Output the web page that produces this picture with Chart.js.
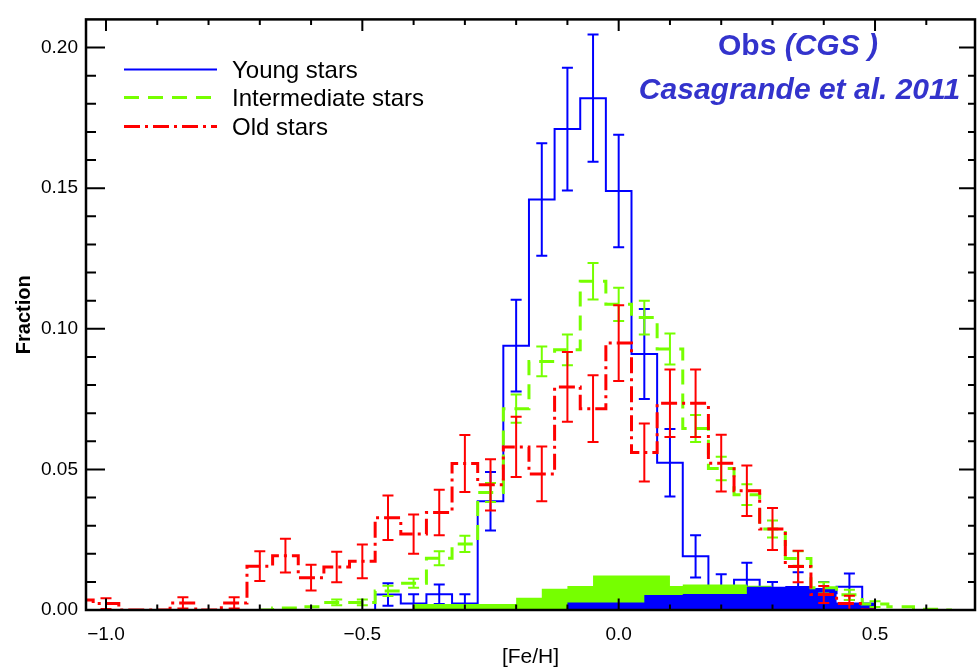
<!DOCTYPE html>
<html>
<head>
<meta charset="utf-8">
<script src="https://cdn.jsdelivr.net/npm/chart.js@4.4.1/dist/chart.umd.min.js"></script>
<style>
  html, body { margin: 0; padding: 0; background: #fff; }
  #wrap { width: 977px; height: 672px; }
</style>
</head>
<body>
<div id="wrap"><canvas id="mdf" width="977" height="672"></canvas></div>
<script>
// [Fe/H] distributions by age group, bin centres every 0.05 dex
const youngBins = [-0.50, -0.45, -0.40, -0.35, -0.30, -0.25, -0.20, -0.15, -0.10, -0.05, 0.00,
  0.05, 0.10, 0.15, 0.20, 0.25, 0.30, 0.35, 0.40, 0.45, 0.50];
const youngFrac = [0, 0.0055, 0.0023, 0.0056, 0.0023, 0.0387, 0.094, 0.146, 0.171, 0.182, 0.149,
  0.091, 0.0524, 0.0191, 0.008, 0.0108, 0.006, 0.007, 0.006, 0.0083, 0];
const youngErr = [0, 0.004, 0.0033, 0.0035, 0.0033, 0.0104, 0.0163, 0.020, 0.0218, 0.0226, 0.020,
  0.016, 0.012, 0.0075, 0.0047, 0.006, 0.004, 0.0064, 0.004, 0.0047, 0];

const interBins = [-0.70, -0.65, -0.60, -0.55, -0.50, -0.45, -0.40, -0.35, -0.30, -0.25, -0.20,
  -0.15, -0.10, -0.05, 0.00, 0.05, 0.10, 0.15, 0.20, 0.25, 0.30, 0.35, 0.40, 0.45, 0.50, 0.55, 0.60, 0.65];
const interFrac = [0, 0.0007, 0.0012, 0.0027, 0.0027, 0.0068, 0.0095, 0.0184, 0.0235, 0.0418, 0.0716,
  0.0884, 0.0925, 0.1169, 0.1087, 0.104, 0.0928, 0.0645, 0.0503, 0.041, 0.0288, 0.0183, 0.0079, 0.0054,
  0.0021, 0.0012, 0.0003, 0];
const interErr = [0, 0, 0, 0.001, 0.001, 0.0018, 0.0016, 0.0025, 0.0029, 0.0034, 0.005,
  0.0053, 0.0055, 0.0065, 0.0059, 0.006, 0.0055, 0.0048, 0.0042, 0.0037, 0.003, 0.0026, 0.002, 0.0018,
  0.001, 0, 0, 0];

const oldBins = [-1.05, -1.00, -0.95, -0.90, -0.85, -0.80, -0.75, -0.70, -0.65, -0.60, -0.55, -0.50,
  -0.45, -0.40, -0.35, -0.30, -0.25, -0.20, -0.15, -0.10, -0.05, 0.00, 0.05, 0.10, 0.15, 0.20, 0.25,
  0.30, 0.35, 0.40, 0.45, 0.50];
const oldFrac = [0.0036, 0.0023, 0, 0, 0.0025, 0, 0.0025, 0.0156, 0.0193, 0.0115, 0.0153, 0.0173,
  0.0328, 0.027, 0.0347, 0.0521, 0.0445, 0.058, 0.0484, 0.0793, 0.0716, 0.0949, 0.056, 0.0735, 0.0735,
  0.0522, 0.0424, 0.0288, 0.0155, 0.0055, 0.0023, 0];
const oldErr = [0.0035, 0.0019, 0, 0, 0.002, 0, 0.002, 0.0053, 0.006, 0.0046, 0.0054, 0.006,
  0.0079, 0.007, 0.0081, 0.0101, 0.0091, 0.0107, 0.0097, 0.0124, 0.0119, 0.0135, 0.0103, 0.012, 0.012,
  0.0101, 0.009, 0.0075, 0.0056, 0.003, 0.0028, 0];

// shaded histograms near the bottom (bin edges, value held until next edge)
const interFillEdges = [-0.50, -0.40, -0.20, -0.15, -0.10, -0.05, 0.10, 0.125, 0.25, 0.30];
const interFillFrac = [0, 0.0021, 0.0044, 0.0076, 0.0085, 0.0123, 0.0085, 0.0091, 0.0086, 0];
const youngFillEdges = [-0.15, -0.10, 0.05, 0.125, 0.25, 0.325, 0.375, 0.425, 0.50];
const youngFillFrac = [0, 0.0027, 0.0053, 0.0057, 0.0083, 0.0085, 0.0078, 0.0027, 0];

const xTicks = [-1.0, -0.5, 0.0, 0.5];
const yTicks = [0.00, 0.05, 0.10, 0.15, 0.20];

const BLUE = '#0000ff';
const GREEN = 'rgb(118,255,0)';
const RED = '#ff0000';
const INK = '#3333cc';
const FONT = "'Liberation Sans', Arial, Helvetica, sans-serif";

const pts = (xs, ys) => xs.map((x, i) => ({ x: x, y: ys[i] }));

// vertical error bars, drawn right after their own dataset so layering follows dataset order
const errorBars = {
  id: 'errorBars',
  afterDatasetDraw(chart, args) {
    const ds = chart.data.datasets[args.index];
    if (!ds.errors) return;
    const { ctx, chartArea: a, scales: { x, y } } = chart;
    ctx.save();
    ctx.beginPath();
    ctx.rect(a.left, a.top, a.right - a.left, a.bottom - a.top);
    ctx.clip();
    ctx.strokeStyle = ds.borderColor;
    ctx.lineWidth = 2;
    ctx.setLineDash([]);
    ds.data.forEach((p, i) => {
      const e = ds.errors[i];
      if (!e) return;
      const px = x.getPixelForValue(p.x);
      const y0 = y.getPixelForValue(p.y - e);
      const y1 = y.getPixelForValue(p.y + e);
      ctx.beginPath();
      ctx.moveTo(px, y0); ctx.lineTo(px, y1);
      ctx.moveTo(px - 5.5, y0); ctx.lineTo(px + 5.5, y0);
      ctx.moveTo(px - 5.5, y1); ctx.lineTo(px + 5.5, y1);
      ctx.stroke();
    });
    ctx.restore();
  }
};

// box frame with inward major/minor ticks on all four sides
const frame = {
  id: 'frame',
  afterDatasetsDraw(chart) {
    const { ctx, chartArea: a, scales: { x, y } } = chart;
    ctx.save();
    ctx.strokeStyle = '#000';
    ctx.setLineDash([]);
    ctx.lineWidth = 2;
    for (let k = -10; k <= 7; k++) {
      const v = k / 10;
      const px = x.getPixelForValue(v);
      if (px < a.left + 1 || px > a.right - 1) continue;
      const major = k % 5 === 0;
      const len = major ? 11.5 : 5.5;
      ctx.beginPath();
      ctx.moveTo(px, a.bottom); ctx.lineTo(px, a.bottom - len);
      ctx.moveTo(px, a.top); ctx.lineTo(px, a.top + len);
      ctx.stroke();
    }
    for (let k = 0; k <= 21; k++) {
      const v = k / 100;
      const py = y.getPixelForValue(v);
      if (py < a.top + 1) continue;
      const major = k % 5 === 0;
      ctx.beginPath();
      ctx.moveTo(a.left, py); ctx.lineTo(a.left + (major ? 19 : 10), py);
      ctx.moveTo(a.right, py); ctx.lineTo(a.right - (major ? 16 : 7), py);
      ctx.stroke();
    }
    ctx.lineWidth = 2.5;
    ctx.strokeRect(a.left, a.top, a.right - a.left, a.bottom - a.top);
    ctx.restore();
  }
};

// legend in the upper left, titles and axis names
const annotations = {
  id: 'annotations',
  afterDraw(chart) {
    const { ctx, chartArea: a } = chart;
    ctx.save();
    const rows = chart.data.datasets.filter(d => d.label);
    rows.forEach((ds, i) => {
      const ly = a.top + [50, 78, 107][i];
      ctx.strokeStyle = ds.borderColor;
      ctx.lineWidth = ds.borderWidth;
      ctx.setLineDash(ds.borderDash || []);
      ctx.beginPath();
      ctx.moveTo(a.left + 38, ly);
      ctx.lineTo(a.left + 131, ly);
      ctx.stroke();
      ctx.setLineDash([]);
      ctx.fillStyle = '#000';
      ctx.font = '24px ' + FONT;
      ctx.textAlign = 'left';
      ctx.textBaseline = 'alphabetic';
      ctx.fillText(ds.label, a.left + 146, ly + 8.5);
    });

    // title block
    const cx = a.right - 177;
    ctx.fillStyle = INK;
    ctx.textBaseline = 'alphabetic';
    ctx.textAlign = 'left';
    const upright = 'bold 30px ' + FONT;
    const slanted = 'italic bold 30px ' + FONT;
    ctx.font = upright;
    const w1 = ctx.measureText('Obs ').width;
    ctx.font = slanted;
    const w2 = ctx.measureText('(CGS )').width;
    const x0 = cx - (w1 + w2) / 2;
    ctx.font = upright;
    ctx.fillText('Obs ', x0, a.top + 36);
    ctx.font = slanted;
    ctx.fillText('(CGS )', x0 + w1, a.top + 36);
    ctx.textAlign = 'center';
    ctx.fillText('Casagrande et al. 2011', cx + 1.5, a.top + 79.5);

    // axis names
    ctx.fillStyle = '#000';
    ctx.font = '21px ' + FONT;
    ctx.textAlign = 'center';
    ctx.textBaseline = 'middle';
    ctx.fillText('[Fe/H]', (a.left + a.right) / 2, 657);
    ctx.translate(24.5, (a.top + a.bottom) / 2);
    ctx.rotate(-Math.PI / 2);
    ctx.font = 'bold 20px ' + FONT;
    ctx.fillText('Fraction', 0, 0);
    ctx.restore();
  }
};

new Chart(document.getElementById('mdf'), {
  type: 'line',
  data: {
    datasets: [
      {
        label: 'Young stars',
        data: pts(youngBins, youngFrac),
        errors: youngErr,
        borderColor: BLUE,
        borderWidth: 2,
        stepped: 'middle',
        pointRadius: 0,
        fill: false,
        order: 4
      },
      {
        data: pts(interFillEdges, interFillFrac),
        borderColor: 'rgba(0,0,0,0)',
        borderWidth: 0,
        backgroundColor: GREEN,
        stepped: 'before',
        pointRadius: 0,
        fill: 'origin',
        order: 3
      },
      {
        data: pts(youngFillEdges, youngFillFrac),
        borderColor: 'rgba(0,0,0,0)',
        borderWidth: 0,
        backgroundColor: BLUE,
        stepped: 'before',
        pointRadius: 0,
        fill: 'origin',
        order: 2
      },
      {
        label: 'Intermediate stars',
        data: pts(interBins, interFrac),
        errors: interErr,
        borderColor: GREEN,
        borderWidth: 3,
        borderDash: [15, 9],
        stepped: 'middle',
        pointRadius: 0,
        fill: false,
        order: 1
      },
      {
        label: 'Old stars',
        data: pts(oldBins, oldFrac),
        errors: oldErr,
        borderColor: RED,
        borderWidth: 3,
        borderDash: [16, 5, 3, 5],
        stepped: 'middle',
        pointRadius: 0,
        fill: false,
        order: 0
      }
    ]
  },
  options: {
    responsive: false,
    animation: false,
    devicePixelRatio: 1,
    layout: { padding: { top: 11, right: 2, left: 0, bottom: 0 } },
    plugins: { legend: { display: false }, tooltip: { enabled: false } },
    scales: {
      x: {
        type: 'linear',
        min: -1.039,
        max: 0.695,
        grid: { display: false, drawTicks: false },
        border: { display: false },
        afterBuildTicks: s => { s.ticks = xTicks.map(v => ({ value: v })); },
        afterFit: s => { s.height = 62; },
        ticks: {
          color: '#000',
          padding: 13,
          maxRotation: 0,
          autoSkip: false,
          font: { family: FONT, size: 19 },
          callback: v => (v < 0 ? '\u2212' : '') + Math.abs(v).toFixed(1)
        }
      },
      y: {
        type: 'linear',
        min: 0,
        max: 0.21,
        grid: { display: false, drawTicks: false },
        border: { display: false },
        afterBuildTicks: s => { s.ticks = yTicks.map(v => ({ value: v })); },
        afterFit: s => { s.width = 86; },
        ticks: {
          color: '#000',
          padding: 8,
          autoSkip: false,
          font: { family: FONT, size: 19 },
          callback: v => v.toFixed(2)
        }
      }
    }
  },
  plugins: [errorBars, frame, annotations]
});
</script>
</body>
</html>
